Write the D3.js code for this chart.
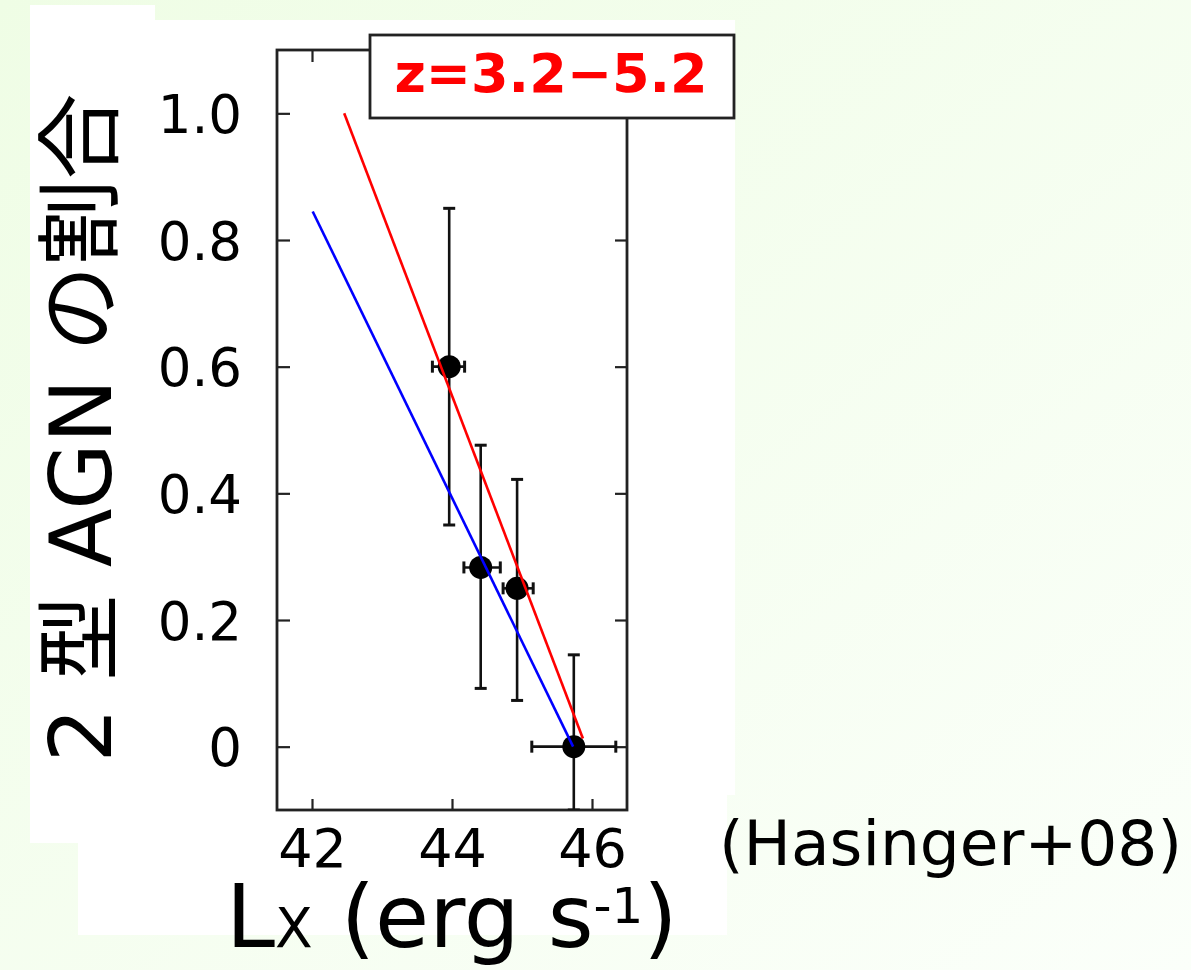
<!DOCTYPE html>
<html>
<head>
<meta charset="utf-8">
<title>Type 2 AGN fraction vs Lx</title>
<script src="https://d3js.org/d3.v7.min.js"></script>
<style>
  body { margin: 0; background: #fff; }
  svg { display: block; }
  text { font-family: "DejaVu Sans", "Noto Sans CJK JP", sans-serif; fill: #000; }
</style>
</head>
<body>
<div id="chart"></div>
<script>

// data (Hasinger 2008, z = 3.2-5.2 bin)
var lx      = [43.96, 44.41, 44.93, 45.74];
var lxLo    = [43.72, 44.17, 44.73, 45.14];
var lxHi    = [44.18, 44.69, 45.16, 46.34];
var frac    = [0.60, 0.283, 0.25, 0.0];
var fracLo  = [0.35, 0.092, 0.073, -0.10];
var fracHi  = [0.85, 0.476, 0.422, 0.145];

// the two fitted lines
var redFitX  = [42.46, 45.87];
var redFitY  = [1.0, 0.013];
var blueFitX = [42.01, 45.73];
var blueFitY = [0.845, 0.0];

var xTicks = [42, 44, 46];
var yTicks = [0, 0.2, 0.4, 0.6, 0.8, 1.0];
var yTickLabels = ["0", "0.2", "0.4", "0.6", "0.8", "1.0"];

var W = 1191, H = 970;
var frame = {left: 277, top: 50, right: 627, bottom: 810};

var svg = d3.select("#chart").append("svg")
    .attr("width", W)
    .attr("height", H);

// pale green slide background
var defs = svg.append("defs");
var grad = defs.append("linearGradient")
    .attr("id", "bg")
    .attr("x1", "0%").attr("y1", "0%")
    .attr("x2", "100%").attr("y2", "100%");
grad.append("stop").attr("offset", "0%").attr("stop-color", "#effde5");
grad.append("stop").attr("offset", "100%").attr("stop-color", "#fbfffa");
svg.append("rect").attr("width", W).attr("height", H).attr("fill", "url(#bg)");

// white paper behind the pasted figure
svg.append("rect").attr("x", 30).attr("y", 5).attr("width", 125).attr("height", 838).attr("fill", "#fff");
svg.append("rect").attr("x", 155).attr("y", 20).attr("width", 580).attr("height", 775).attr("fill", "#fff");
svg.append("rect").attr("x", 78).attr("y", 795).attr("width", 649).attr("height", 140).attr("fill", "#fff");

var x = d3.scaleLinear().domain([41.5, 46.5]).range([frame.left, frame.right]);
var y = d3.scaleLinear().domain([-0.1, 1.1]).range([frame.bottom, frame.top]);

var plot = svg.append("g");

// clip so bars stay inside the frame
defs.append("clipPath").attr("id", "clip")
  .append("rect")
    .attr("x", frame.left).attr("y", frame.top)
    .attr("width", frame.right - frame.left)
    .attr("height", frame.bottom - frame.top);

// axes, ticks pointing inward
var axisStyle = function(g) {
  g.select(".domain").remove();
  g.selectAll(".tick line").attr("stroke", "#222").attr("stroke-width", 2.2);
};

plot.append("g")
    .attr("transform", "translate(" + frame.left + ",0)")
    .call(d3.axisLeft(y).tickValues(yTicks).tickSize(-13).tickPadding(35)
      .tickFormat(function(d, i) { return yTickLabels[i]; }))
    .call(axisStyle)
    .call(function(g) {
      g.selectAll(".tick text")
        .style("font-size", "53px")
        .attr("fill", "#000")
        .attr("dy", "0.36em");
    });

plot.append("g")
    .attr("transform", "translate(" + frame.right + ",0)")
    .call(d3.axisRight(y).tickValues(yTicks).tickSize(-12).tickFormat(""))
    .call(axisStyle);

plot.append("g")
    .attr("transform", "translate(0," + frame.bottom + ")")
    .call(d3.axisBottom(x).tickValues(xTicks).tickSize(-11).tickPadding(19)
      .tickFormat(d3.format("d")))
    .call(axisStyle)
    .call(function(g) {
      g.selectAll(".tick text")
        .style("font-size", "54px")
        .attr("fill", "#000")
        .attr("dy", "0.71em");
    });

plot.append("g")
    .attr("transform", "translate(0," + frame.top + ")")
    .call(d3.axisTop(x).tickValues(xTicks).tickSize(-12).tickFormat(""))
    .call(axisStyle);

// frame
plot.append("rect")
    .attr("x", frame.left).attr("y", frame.top)
    .attr("width", frame.right - frame.left)
    .attr("height", frame.bottom - frame.top)
    .attr("fill", "none")
    .attr("stroke", "#222")
    .attr("stroke-width", 2.8);

var idx = d3.range(lx.length);
var marks = plot.append("g").attr("clip-path", "url(#clip)");

// vertical error bars
marks.selectAll(".ey").data(idx).enter().append("line")
    .attr("x1", function(i) { return x(lx[i]); })
    .attr("x2", function(i) { return x(lx[i]); })
    .attr("y1", function(i) { return y(fracLo[i]); })
    .attr("y2", function(i) { return y(fracHi[i]); })
    .attr("stroke", "#111").attr("stroke-width", 2.6);

var capsY = [];
idx.forEach(function(i) { capsY.push({i: i, v: fracLo[i]}); capsY.push({i: i, v: fracHi[i]}); });
marks.selectAll(".capy").data(capsY).enter().append("line")
    .attr("x1", function(d) { return x(lx[d.i]) - 6; })
    .attr("x2", function(d) { return x(lx[d.i]) + 6; })
    .attr("y1", function(d) { return y(d.v); })
    .attr("y2", function(d) { return y(d.v); })
    .attr("stroke", "#111").attr("stroke-width", 3);

// horizontal error bars
marks.selectAll(".ex").data(idx).enter().append("line")
    .attr("x1", function(i) { return x(lxLo[i]); })
    .attr("x2", function(i) { return x(lxHi[i]); })
    .attr("y1", function(i) { return y(frac[i]); })
    .attr("y2", function(i) { return y(frac[i]); })
    .attr("stroke", "#111").attr("stroke-width", 2.6);

var capsX = [];
idx.forEach(function(i) { capsX.push({i: i, v: lxLo[i]}); capsX.push({i: i, v: lxHi[i]}); });
marks.selectAll(".capx").data(capsX).enter().append("line")
    .attr("x1", function(d) { return x(d.v); })
    .attr("x2", function(d) { return x(d.v); })
    .attr("y1", function(d) { return y(frac[d.i]) - 6; })
    .attr("y2", function(d) { return y(frac[d.i]) + 6; })
    .attr("stroke", "#111").attr("stroke-width", 3);

// points
marks.selectAll(".pt").data(idx).enter().append("circle")
    .attr("cx", function(i) { return x(lx[i]); })
    .attr("cy", function(i) { return y(frac[i]); })
    .attr("r", 11.5)
    .attr("fill", "#000");

// fit lines (drawn over the points)
var line = d3.line()
    .x(function(d) { return x(d[0]); })
    .y(function(d) { return y(d[1]); });

plot.append("path")
    .datum(d3.zip(blueFitX, blueFitY))
    .attr("d", line)
    .attr("fill", "none").attr("stroke", "#0000ff").attr("stroke-width", 2.6);

plot.append("path")
    .datum(d3.zip(redFitX, redFitY))
    .attr("d", line)
    .attr("fill", "none").attr("stroke", "#ff0000").attr("stroke-width", 2.6);

// redshift label box
svg.append("rect")
    .attr("x", 370).attr("y", 35)
    .attr("width", 364).attr("height", 83)
    .attr("fill", "#fff")
    .attr("stroke", "#222").attr("stroke-width", 2.8);

svg.append("text")
    .attr("x", 551).attr("y", 92)
    .attr("text-anchor", "middle")
    .style("font-size", "54px")
    .style("font-weight", "bold")
    .style("fill", "#ff0000")
    .text("z=3.2\u22125.2");

// y title
svg.append("text")
    .attr("transform", "translate(111,428) rotate(-90)")
    .attr("text-anchor", "middle")
    .style("font-size", "86px")
    .text("2 型 AGN の割合");

// x title
var xt = svg.append("text")
    .attr("x", 226).attr("y", 947)
    .style("font-size", "88px");
xt.append("tspan").text("L");
xt.append("tspan").style("font-size", "55px").text("X");
xt.append("tspan").text(" (erg s");
xt.append("tspan").attr("dy", -24).style("font-size", "50px").text("-1");
xt.append("tspan").attr("dy", 24).text(")");

// reference
svg.append("text")
    .attr("x", 719).attr("y", 865)
    .style("font-size", "63px")
    .text("(Hasinger+08)");

</script>
</body>
</html>
